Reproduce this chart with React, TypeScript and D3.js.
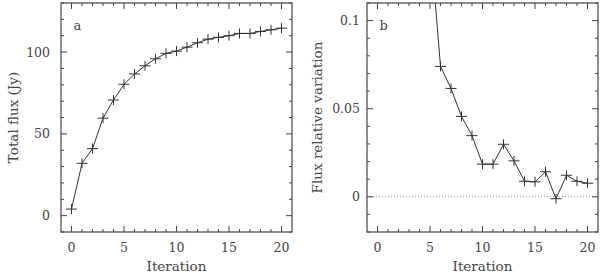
import React from 'react';
import * as d3 from 'd3';

// Panel a: total flux vs iteration
const iterations = [0, 1, 2, 3, 4, 5, 6, 7, 8, 9, 10, 11, 12, 13, 14, 15, 16, 17, 18, 19, 20];
const totalFlux = [4, 32, 41, 59.6, 70.7, 80.3, 86.6, 91.6, 95.9, 99.2, 100.6, 103, 105.7, 107.9, 109, 110, 111.4, 111.4, 112.6, 113.6, 114.6];

// Panel b: flux relative variation (iteration 5 runs off the top)
const variationIterations = [5, 6, 7, 8, 9, 10, 11, 12, 13, 14, 15, 16, 17, 18, 19, 20];
const relVariation = [0.147, 0.074, 0.0615, 0.0456, 0.0347, 0.0185, 0.0185, 0.0298, 0.0204, 0.0088, 0.0085, 0.0142, -0.0011, 0.0122, 0.0088, 0.0077];

const xMajorTicks = [0, 5, 10, 15, 20];
const fluxMajorTicks = [0, 50, 100];
const fluxTickLabels = ['0', '50', '100'];
const varMajorTicks = [0, 0.05, 0.1];
const varTickLabels = ['0', '0.05', '0.1'];

const INK = '#444';
const FONT = 'DejaVu Serif';

type PanelProps = {
  id: string;
  left: number;
  right: number;
  top: number;
  bottom: number;
  xs: number[];
  ys: number[];
  yDomain: [number, number];
  yMajor: number[];
  yLabels: string[];
  yMinorStep: number;
  yLabel: string;
  yLabelX: number;
  tickLabelGap: number;
  letter: string;
  zeroLine?: boolean;
};

const Panel = (p: PanelProps) => {
  const x = d3.scaleLinear().domain([-1, 21]).range([p.left, p.right]);
  const y = d3.scaleLinear().domain(p.yDomain).range([p.bottom, p.top]);

  const xMinor = d3.range(0, 21, 1).filter(v => v % 5 !== 0);
  const nMin = Math.ceil(p.yDomain[0] / p.yMinorStep);
  const nMax = Math.floor(p.yDomain[1] / p.yMinorStep);
  const yMinor = d3.range(nMin, nMax + 1).map(k => k * p.yMinorStep)
    .filter(v => !p.yMajor.some(m => Math.abs(m - v) < 1e-9));

  const line = d3.line<number>()
    .x((_, i) => x(p.xs[i]))
    .y(d => y(d));

  const major = 6;
  const minor = 3;

  return (
    <g>
      <defs>
        <clipPath id={`clip-${p.id}`}>
          <rect x={p.left} y={p.top} width={p.right - p.left} height={p.bottom - p.top} />
        </clipPath>
      </defs>
      {p.zeroLine && (
        <line x1={p.left} x2={p.right} y1={y(0)} y2={y(0)} stroke="#777" strokeWidth={0.8} strokeDasharray="1,2" />
      )}
      {/* x ticks, bottom and top */}
      {xMajorTicks.map(v => (
        <g key={`xM${v}`}>
          <line x1={x(v)} x2={x(v)} y1={p.bottom} y2={p.bottom - major} stroke={INK} />
          <line x1={x(v)} x2={x(v)} y1={p.top} y2={p.top + major} stroke={INK} />
          <text x={x(v)} y={p.bottom + 20} textAnchor="middle" fontSize={12.5} fontFamily={FONT} fill={INK}>{v}</text>
        </g>
      ))}
      {xMinor.map(v => (
        <g key={`xm${v}`}>
          <line x1={x(v)} x2={x(v)} y1={p.bottom} y2={p.bottom - minor} stroke={INK} />
          <line x1={x(v)} x2={x(v)} y1={p.top} y2={p.top + minor} stroke={INK} />
        </g>
      ))}
      {/* y ticks, left and right */}
      {p.yMajor.map((v, i) => (
        <g key={`yM${i}`}>
          <line x1={p.left} x2={p.left + major} y1={y(v)} y2={y(v)} stroke={INK} />
          <line x1={p.right} x2={p.right - major} y1={y(v)} y2={y(v)} stroke={INK} />
          <text x={p.left - p.tickLabelGap} y={y(v) + 4.5} textAnchor="end" fontSize={12.5} fontFamily={FONT} fill={INK}>{p.yLabels[i]}</text>
        </g>
      ))}
      {yMinor.map((v, i) => (
        <g key={`ym${i}`}>
          <line x1={p.left} x2={p.left + minor} y1={y(v)} y2={y(v)} stroke={INK} />
          <line x1={p.right} x2={p.right - minor} y1={y(v)} y2={y(v)} stroke={INK} />
        </g>
      ))}
      <g clipPath={`url(#clip-${p.id})`}>
        <path d={line(p.ys) || ''} fill="none" stroke="#333" strokeWidth={1} />
        {p.ys.map((v, i) => (
          <g key={`c${i}`} stroke="#333" strokeWidth={1}>
            <line x1={x(p.xs[i]) - 5.5} x2={x(p.xs[i]) + 5.5} y1={y(v)} y2={y(v)} />
            <line x1={x(p.xs[i])} x2={x(p.xs[i])} y1={y(v) - 5} y2={y(v) + 5} />
          </g>
        ))}
      </g>
      <rect x={p.left} y={p.top} width={p.right - p.left} height={p.bottom - p.top} fill="none" stroke={INK} strokeWidth={1.2} />
      <text x={x(0.2)} y={p.top + 27} fontSize={13} fontFamily={FONT} fill={INK}>{p.letter}</text>
      <text x={(p.left + p.right) / 2} y={p.bottom + 39} textAnchor="middle" fontSize={13.5} fontFamily={FONT} fill={INK}>Iteration</text>
      <text transform={`translate(${p.yLabelX},${(p.top + p.bottom) / 2}) rotate(-90)`} textAnchor="middle" fontSize={13.5} fontFamily={FONT} fill={INK}>{p.yLabel}</text>
    </g>
  );
};

export default function App() {
  return (
    <svg width={600} height={273} style={{ position: 'absolute', left: 0, top: 0, background: '#fff' }}>
      <Panel
        id="a" left={61} right={292} top={3} bottom={232}
        xs={iterations} ys={totalFlux} yDomain={[-10, 130]}
        yMajor={fluxMajorTicks} yLabels={fluxTickLabels} yMinorStep={10}
        yLabel="Total flux (Jy)" yLabelX={18} tickLabelGap={11} letter="a"
      />
      <Panel
        id="b" left={367} right={598} top={3} bottom={232}
        xs={variationIterations} ys={relVariation} yDomain={[-0.02, 0.11]}
        yMajor={varMajorTicks} yLabels={varTickLabels} yMinorStep={0.01}
        yLabel="Flux relative variation" yLabelX={322} tickLabelGap={7} letter="b" zeroLine
      />
    </svg>
  );
}
